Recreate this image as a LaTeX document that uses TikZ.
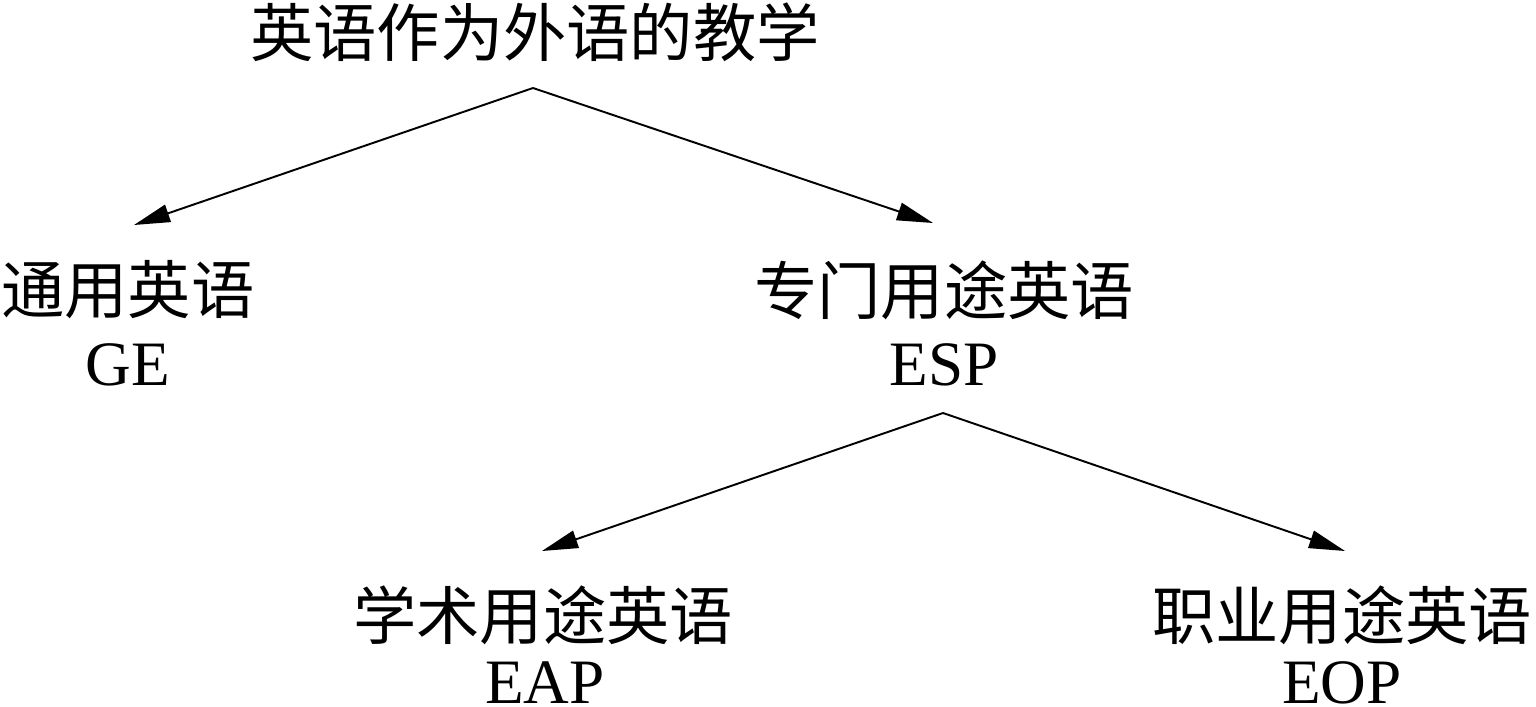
\documentclass[tikz,border=0pt]{standalone}
\usepackage{fontspec}
\setmainfont{Liberation Serif}
\newfontfamily\cjk{Noto Sans CJK SC}
\usetikzlibrary{arrows.meta}
\begin{document}
\begin{tikzpicture}[x=0.02cm,y=-0.02cm,
  zh/.style={inner sep=0pt,font=\cjk\fontsize{36}{40}\selectfont},
  en/.style={inner sep=0pt,font=\fontsize{36}{40}\selectfont},
  arr/.style={line width=1.1pt,-{Triangle[length=0.72cm,width=0.36cm]}}]
\useasboundingbox (0,0) rectangle (1536,707);
\node[zh] (top) at (535,32) {英语作为外语的教学};
\coordinate (a1) at (533,88);
\node[zh] (ge) at (128,290) {通用英语};
\node[en] (gel) at (128,365) {GE};
\node[zh] (esp) at (944,290) {专门用途英语};
\node[en] (espl) at (944,365) {ESP};
\coordinate (a2) at (943,413);
\node[zh] (eap) at (543,615) {学术用途英语};
\node[en] (eapl) at (545,683) {EAP};
\node[zh] (eop) at (1342,615) {职业用途英语};
\node[en] (eopl) at (1342,683) {EOP};
\coordinate (t1) at (134,225);
\coordinate (t2) at (933,223);
\coordinate (t3) at (542,551);
\coordinate (t4) at (1345,551);
\draw[arr] (a1) -- (t1);
\draw[arr] (a1) -- (t2);
\draw[arr] (a2) -- (t3);
\draw[arr] (a2) -- (t4);
\end{tikzpicture}
\end{document}
